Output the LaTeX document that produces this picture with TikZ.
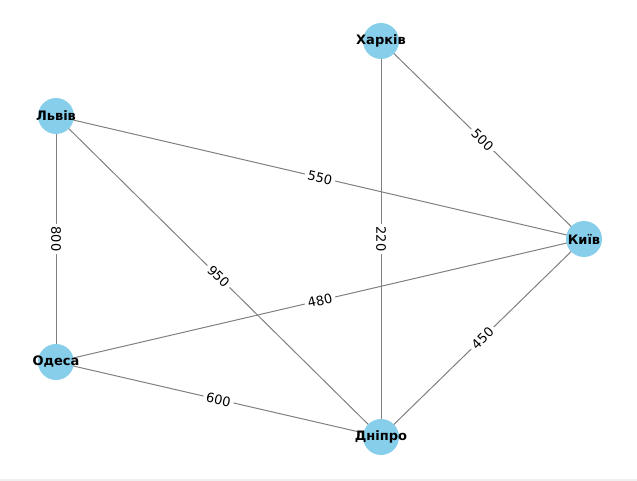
\documentclass[tikz,border=0pt]{standalone}
\usepackage{fontspec}
\setmainfont{DejaVu Sans}
\definecolor{nodeblue}{RGB}{135,206,235}
\definecolor{edgegray}{RGB}{128,128,128}
\definecolor{stripgray}{RGB}{240,240,240}
\begin{document}
\begin{tikzpicture}[x=1bp,y=-1bp,
  city/.style={circle,fill=nodeblue,minimum size=36bp,inner sep=0pt,
    label={[font=\fontsize{13bp}{15bp}\selectfont\bfseries,inner sep=0pt]center:#1}},
  road/.style={draw=edgegray,line width=1bp},
  dist/.style={fill=white,inner sep=3bp,sloped,pos=0.5,
    font=\fontsize{13bp}{15bp}\selectfont}]
  \useasboundingbox (0,0) rectangle (637,481);
  \fill[stripgray] (0,479) rectangle (637,481);

  % city positions
  \coordinate (pK) at (381,41);
  \coordinate (pL) at (56,116);
  \coordinate (pKy) at (584,239);
  \coordinate (pO) at (56,362);
  \coordinate (pD) at (381,437);

  % roads with distances
  \draw[road] (pK) -- node[dist] {500} (pKy);
  \draw[road] (pK) -- node[dist] {220} (pD);
  \draw[road] (pL) -- node[dist] {550} (pKy);
  \draw[road] (pL) -- node[dist] {800} (pO);
  \draw[road] (pL) -- node[dist] {950} (pD);
  \draw[road] (pO) -- node[dist] {480} (pKy);
  \draw[road] (pO) -- node[dist] {600} (pD);
  \draw[road] (pKy) -- node[dist] {450} (pD);

  % cities: fixed-size discs with the name centred on top
  \node[city=Харків] (kharkiv) at (pK) {};
  \node[city=Львів] (lviv) at (pL) {};
  \node[city=Київ] (kyiv) at (pKy) {};
  \node[city=Одеса] (odesa) at (pO) {};
  \node[city=Дніпро] (dnipro) at (pD) {};
\end{tikzpicture}
\end{document}
